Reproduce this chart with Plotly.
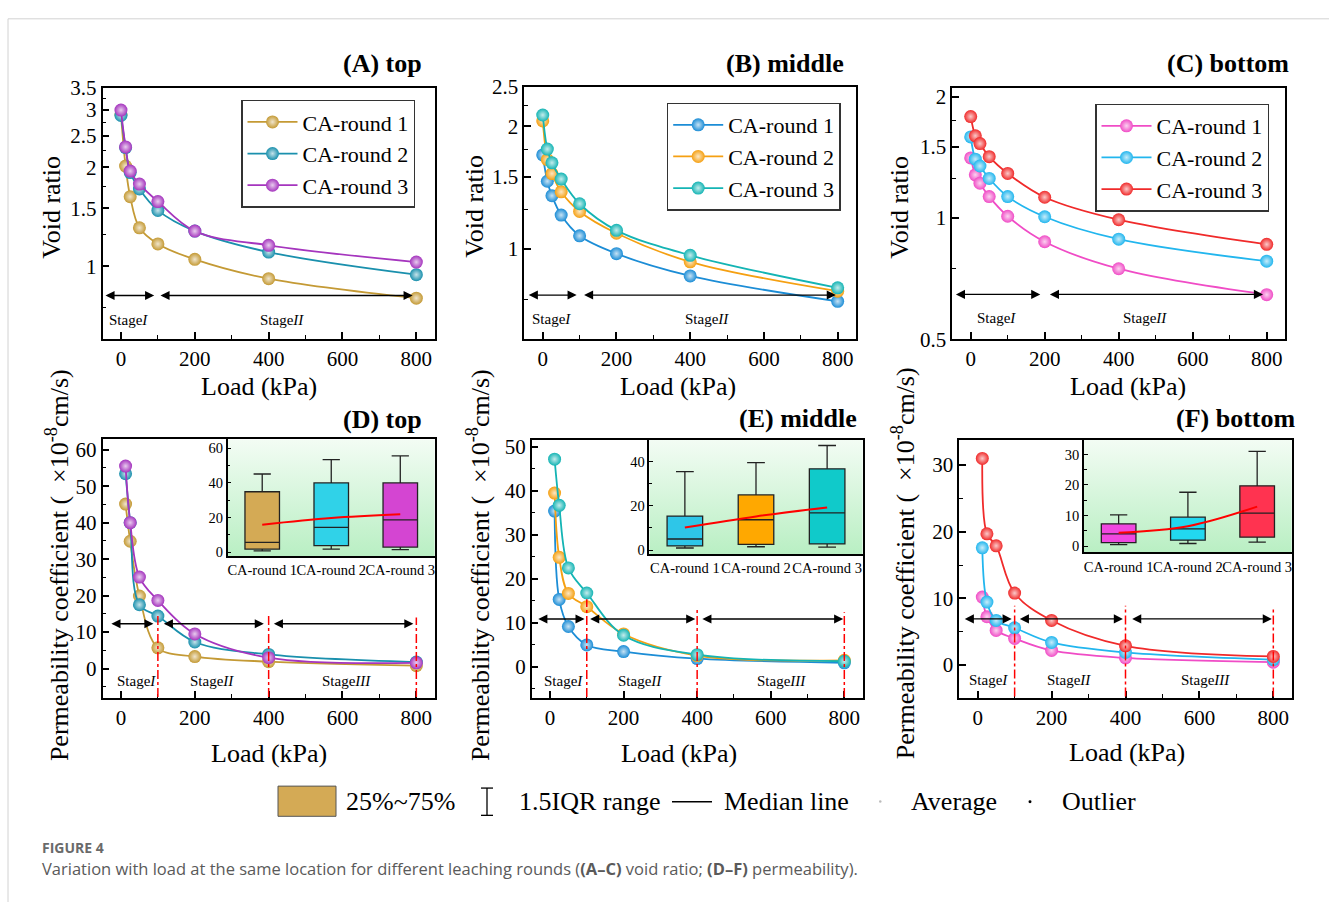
import base64
import numpy as np
import plotly.graph_objects as go

W, H = 1329, 914
FONT = "Liberation Serif"

# ---------------- data ----------------
loads_void = [0, 12.5, 25, 50, 100, 200, 400, 800]
loads_perm = [12.5, 25, 50, 100, 200, 400, 800]
rounds = ["CA-round 1", "CA-round 2", "CA-round 3"]

void_top_r1 = [2.90, 2.02, 1.63, 1.31, 1.17, 1.05, 0.917, 0.80]
void_top_r2 = [2.88, 2.30, 1.93, 1.72, 1.48, 1.28, 1.105, 0.943]
void_top_r3 = [2.99, 2.31, 1.95, 1.78, 1.575, 1.28, 1.159, 1.03]

void_mid_r1 = [1.70, 1.465, 1.35, 1.21, 1.076, 0.973, 0.858, 0.743]
void_mid_r2 = [2.06, 1.656, 1.53, 1.38, 1.235, 1.092, 0.929, 0.787]
void_mid_r3 = [2.13, 1.757, 1.626, 1.483, 1.29, 1.11, 0.964, 0.802]

void_bot_r1 = [1.41, 1.28, 1.22, 1.13, 1.01, 0.873, 0.748, 0.645]
void_bot_r2 = [1.59, 1.40, 1.346, 1.254, 1.13, 1.007, 0.886, 0.781]
void_bot_r3 = [1.786, 1.60, 1.53, 1.42, 1.29, 1.126, 0.99, 0.86]

perm_top_r1 = [45.1, 34.9, 19.9, 5.7, 3.3, 1.9, 0.8]
perm_top_r2 = [53.4, 40.0, 17.5, 14.4, 7.3, 3.9, 1.8]
perm_top_r3 = [55.5, 40.0, 25.1, 18.7, 9.5, 3.0, 1.6]

perm_mid_r1 = [35.4, 15.35, 9.2, 5.0, 3.5, 1.9, 0.95]
perm_mid_r2 = [39.5, 24.9, 16.7, 13.7, 7.5, 2.6, 1.5]
perm_mid_r3 = [47.2, 36.7, 22.5, 16.8, 7.2, 2.8, 1.3]

perm_bot_r1 = [10.2, 7.26, 5.2, 4.0, 2.2, 1.08, 0.45]
perm_bot_r2 = [17.6, 9.45, 6.7, 5.6, 3.4, 1.9, 0.83]
perm_bot_r3 = [31.0, 19.7, 17.9, 10.8, 6.7, 2.9, 1.3]

x_tick_vals = [0, 200, 400, 600, 800]

COL_TOP = ['#C49A35', '#1A90AD', '#A535BE']
COL_MID = ['#1C8DD6', '#F5A012', '#14B4B4']
COL_BOT = ['#F04CC6', '#22B6EE', '#F02A2A']
BOX_TOP = ['#D4AA55', '#30D2E8', '#D445D2']
BOX_MID = ['#2EC6E8', '#FFA800', '#10CACA']
BOX_BOT = ['#F048E0', '#22D8F0', '#FF3350']


def fx(p):
    return p / W


def fy(p):
    return 1 - p / H


def light(hexcol, f=0.7):
    h = hexcol.lstrip('#')
    r, g, b = int(h[0:2], 16), int(h[2:4], 16), int(h[4:6], 16)
    r = int(r + (255 - r) * f)
    g = int(g + (255 - g) * f)
    b = int(b + (255 - b) * f)
    return f'#{r:02x}{g:02x}{b:02x}'


fig = go.Figure()

void_panels = [
    dict(n=1, data=[void_top_r1, void_top_r2, void_top_r3], cols=COL_TOP,
         xd=(102.5, 434.8), yd=(77.7, 336), yr=(0.6, 3.5),
         tv=[1, 1.5, 2, 2.5, 3, 3.5], mv=[0.75, 1.25, 1.75, 2.25, 2.75, 3.25],
         title='(A) top', tpos=(424, 53), legend='legend', lpos=(241, 90),
         ytpos=(52, 201), xtpos=(259, 385),
         arrow_y=0.815, arrows=[(-46, 90), (103, 790)], split=[100, 800],
         vtops=[1.68, 1.085], stages=[(20, 'Stage<i>I</i>'), (435, 'Stage<i>II</i>')], stage_y=0.687),
    dict(n=2, data=[void_mid_r1, void_mid_r2, void_mid_r3], cols=COL_MID,
         xd=(524.3, 856.1), yd=(76.7, 336), yr=(0.6, 2.5),
         tv=[1, 1.5, 2, 2.5], mv=[0.75, 1.25, 1.75, 2.25],
         title='(B) middle', tpos=(846, 53), legend='legend2', lpos=(666.7, 93),
         ytpos=(475, 200), xtpos=(678, 385),
         arrow_y=0.77, arrows=[(-42, 92), (108, 795)], split=[100, 800],
         vtops=[1.305, 0.804], stages=[(24, 'Stage<i>I</i>'), (445, 'Stage<i>II</i>')], stage_y=0.674),
    dict(n=3, data=[void_bot_r1, void_bot_r2, void_bot_r3], cols=COL_BOT,
         xd=(952.2, 1285.2), yd=(78.3, 336), yr=(0.5, 2.1),
         tv=[0.5, 1, 1.5, 2], mv=[0.75, 1.25, 1.75],
         title='(C) bottom', tpos=(1291, 53), legend='legend3', lpos=(1095, 94),
         ytpos=(900, 201), xtpos=(1128, 385),
         arrow_y=0.646, arrows=[(-44, 188), (210, 790)], split=[200, 800],
         vtops=[1.145, 0.891], stages=[(70, 'Stage<i>I</i>'), (471, 'Stage<i>II</i>')], stage_y=0.564),
]

perm_panels = [
    dict(n=4, data=[perm_top_r1, perm_top_r2, perm_top_r3], cols=COL_TOP, box=BOX_TOP,
         xd=(102.5, 434.8), yd=(439, 704.3), yr=(-8, 62.8), dt=10,
         ins=dict(n=7, xd=(227.7, 434.8), yd=(439, 559), yr=(-2.3, 65), dt=20),
         title='(D) top', tpos=(424, 418), ytpos=(57, 568), xtpos=(269, 762),
         arrow_y=12.3, arrows=[(-30, 88), (112, 387), (410, 792)], vtops=[15, 14.4, 14],
         stages=[(42, 'Stage<i>I</i>'), (246, 'Stage<i>II</i>'), (611, 'Stage<i>III</i>')], stage_y=-3.4),
    dict(n=5, data=[perm_mid_r1, perm_mid_r2, perm_mid_r3], cols=COL_MID, box=BOX_MID,
         xd=(531.6, 862.7), yd=(439.3, 704.3), yr=(-7, 51.6), dt=10,
         ins=dict(n=8, xd=(649.3, 862.7), yd=(439.3, 556.7), yr=(-1.8, 49.8), dt=20),
         title='(E) middle', tpos=(859, 417), ytpos=(478, 568), xtpos=(679, 762),
         arrow_y=10.9, arrows=[(-36, 94), (105, 395), (410, 797)], vtops=[15.4, 13, 12.4],
         stages=[(36, 'Stage<i>I</i>'), (245, 'Stage<i>II</i>'), (630, 'Stage<i>III</i>')], stage_y=-3.1),
    dict(n=6, data=[perm_bot_r1, perm_bot_r2, perm_bot_r3], cols=COL_BOT, box=BOX_BOT,
         xd=(959.2, 1291.8), yd=(439.3, 704.3), yr=(-4.9, 33.8), dt=10,
         ins=dict(n=9, xd=(1084, 1291.8), yd=(439.3, 555), yr=(-2.1, 34.8), dt=10),
         title='(F) bottom', tpos=(1297, 417), ytpos=(903, 566), xtpos=(1127, 760),
         arrow_y=6.93, arrows=[(-39, 92), (110, 393), (414, 796)], vtops=[8.9, 8.9, 8.5],
         stages=[(29, 'Stage<i>I</i>'), (247, 'Stage<i>II</i>'), (616, 'Stage<i>III</i>')], stage_y=-2.3),
]

axis_common = dict(showline=True, linecolor='black', linewidth=1.5, mirror=True,
                   ticks='inside', ticklen=7, tickwidth=1.5, tickcolor='black',
                   tickfont=dict(family=FONT, size=21, color='black'),
                   showgrid=False, zeroline=False)

layout = dict(width=W, height=H, autosize=False, margin=dict(l=0, r=0, t=0, b=0),
              paper_bgcolor='white', plot_bgcolor='rgba(0,0,0,0)')
annotations = []
shapes = []
images = []

txt_font = dict(family=FONT, size=26, color='black')
stage_font = dict(family=FONT, size=15, color='black')


def arrow(xr, yr, x0, x1, y):
    return dict(x=x1, y=y, ax=x0, ay=y, xref=xr, yref=yr, axref=xr, ayref=yr,
                text='', showarrow=True, arrowhead=2, startarrowhead=2,
                arrowside='end+start', arrowsize=1.4, startarrowsize=1.4,
                arrowwidth=1.3, arrowcolor='black', standoff=0, startstandoff=0)


def add_common_text(p):
    annotations.append(dict(text=f"<b>{p['title']}</b>", x=fx(p['tpos'][0]), y=fy(p['tpos'][1]),
                            xref='paper', yref='paper', xanchor='right', yanchor='middle',
                            showarrow=False, font=txt_font))
    annotations.append(dict(text='Load (kPa)', x=fx(p['xtpos'][0]), y=fy(p['xtpos'][1]),
                            xref='paper', yref='paper', xanchor='center', yanchor='middle',
                            showarrow=False, font=txt_font))


# ---------------- void ratio panels ----------------
for p in void_panels:
    n = p['n']
    xa, ya = f'x{n}', f'y{n}'
    for i, vals in enumerate(p['data']):
        c = p['cols'][i]
        fig.add_trace(go.Scatter(
            x=loads_void, y=vals, name=rounds[i], mode='lines+markers',
            line=dict(color=c, width=1.8, shape='spline', smoothing=1.0),
            marker=dict(size=13, color=c, line=dict(width=0),
                        gradient=dict(type='radial', color=light(c, 0.75))),
            xaxis=xa, yaxis=ya, legend=p['legend'], showlegend=True))
    layout[f'xaxis{n}'] = dict(axis_common, domain=[fx(p['xd'][0]), fx(p['xd'][1])],
                               range=[-50, 850], tickmode='array', tickvals=x_tick_vals,
                               minor=dict(ticks='inside', ticklen=4, tickwidth=1.2, tickcolor='black',
                                          tickmode='array', tickvals=[100, 300, 500, 700]),
                               anchor=ya)
    layout[f'yaxis{n}'] = dict(axis_common, type='log', domain=[fy(p['yd'][1]), fy(p['yd'][0])],
                               range=[np.log10(p['yr'][0]), np.log10(p['yr'][1])],
                               tickmode='array', tickvals=p['tv'], ticktext=[f'{v:g}' for v in p['tv']],
                               minor=dict(ticks='inside', ticklen=4, tickwidth=1.2, tickcolor='black',
                                          tickmode='array', tickvals=p['mv']),
                               anchor=xa)
    layout[p['legend']] = dict(x=fx(p['lpos'][0]), y=fy(p['lpos'][1]), xanchor='left', yanchor='top',
                               bgcolor='white', bordercolor='#333', borderwidth=1.5,
                               font=dict(family=FONT, size=22, color='black'),
                               itemwidth=50, tracegroupgap=0)
    ly = float(np.log10(p['arrow_y']))
    for a0, a1 in p['arrows']:
        annotations.append(arrow(xa, ya, a0, a1, ly))
    ybot = float(np.log10(p['yr'][0]))
    for xs, top in zip(p['split'], p['vtops']):
        shapes.append(dict(type='line', xref=xa, yref=ya, x0=xs, x1=xs, y0=ybot + 0.01,
                           y1=float(np.log10(top)), line=dict(color='red', width=1.5, dash='dashdot')))
    for xs, t in p['stages']:
        annotations.append(dict(text=t, x=xs, y=float(np.log10(p['stage_y'])), xref=xa, yref=ya,
                                showarrow=False, font=stage_font))
    annotations.append(dict(text='Void ratio', x=fx(p['ytpos'][0]), y=fy(p['ytpos'][1]),
                            xref='paper', yref='paper', textangle=-90, showarrow=False,
                            xanchor='center', yanchor='middle', font=txt_font))
    add_common_text(p)

# ---------------- permeability panels ----------------
svg = ("<svg xmlns='http://www.w3.org/2000/svg' width='100' height='100' preserveAspectRatio='none'>"
       "<defs><linearGradient id='g' x1='0' y1='0' x2='0' y2='1'>"
       "<stop offset='0' stop-color='#F3FCF4'/><stop offset='1' stop-color='#B9EFC3'/>"
       "</linearGradient></defs><rect width='100' height='100' fill='url(#g)'/></svg>")
svg_uri = 'data:image/svg+xml;base64,' + base64.b64encode(svg.encode()).decode()

for p in perm_panels:
    n = p['n']
    xa, ya = f'x{n}', f'y{n}'
    for i, vals in enumerate(p['data']):
        c = p['cols'][i]
        fig.add_trace(go.Scatter(
            x=loads_perm, y=vals, name=rounds[i], mode='lines+markers',
            line=dict(color=c, width=1.8, shape='spline', smoothing=1.0),
            marker=dict(size=13, color=c, line=dict(width=0),
                        gradient=dict(type='radial', color=light(c, 0.75))),
            xaxis=xa, yaxis=ya, showlegend=False))
    layout[f'xaxis{n}'] = dict(axis_common, domain=[fx(p['xd'][0]), fx(p['xd'][1])],
                               range=[-50, 850], tickmode='array', tickvals=x_tick_vals,
                               minor=dict(ticks='inside', ticklen=4, tickwidth=1.2, tickcolor='black',
                                          tickmode='array', tickvals=[100, 300, 500, 700]),
                               anchor=ya)
    layout[f'yaxis{n}'] = dict(axis_common, domain=[fy(p['yd'][1]), fy(p['yd'][0])],
                               range=list(p['yr']), tickmode='linear', tick0=0, dtick=p['dt'],
                               minor=dict(ticks='inside', ticklen=4, tickwidth=1.2, tickcolor='black',
                                          dtick=p['dt'] / 2),
                               anchor=xa)
    for a0, a1 in p['arrows']:
        annotations.append(arrow(xa, ya, a0, a1, p['arrow_y']))
    for xs, top in zip([100, 400, 800], p['vtops']):
        shapes.append(dict(type='line', xref=xa, yref=ya, x0=xs, x1=xs, y0=p['yr'][0] + 0.2,
                           y1=top, line=dict(color='red', width=1.5, dash='dashdot')))
    for xs, t in p['stages']:
        annotations.append(dict(text=t, x=xs, y=p['stage_y'], xref=xa, yref=ya,
                                showarrow=False, font=stage_font))
    annotations.append(dict(text='Permeability coefficient (\u2002×10<sup>-8</sup>cm/s)',
                            x=fx(p['ytpos'][0]), y=fy(p['ytpos'][1]),
                            xref='paper', yref='paper', textangle=-90, showarrow=False,
                            xanchor='center', yanchor='middle', font=txt_font))
    add_common_text(p)

    # inset box chart
    ins = p['ins']
    m = ins['n']
    xi, yi = f'x{m}', f'y{m}'
    for i, vals in enumerate(p['data']):
        fig.add_trace(go.Box(
            x=[rounds[i]] * len(vals), y=vals, name=rounds[i], boxpoints=False,
            quartilemethod='exclusive', fillcolor=p['box'][i],
            line=dict(color='#222', width=1.3), whiskerwidth=0.5, width=0.5,
            xaxis=xi, yaxis=yi, showlegend=False, hoverinfo='skip'))
    means = [float(np.mean(v)) for v in p['data']]
    fig.add_trace(go.Scatter(x=rounds, y=means, mode='lines',
                             line=dict(color='red', width=2, shape='spline'),
                             xaxis=xi, yaxis=yi, showlegend=False))
    layout[f'xaxis{m}'] = dict(axis_common, domain=[fx(ins['xd'][0]), fx(ins['xd'][1])],
                               type='category', categoryorder='array', categoryarray=rounds,
                               range=[-0.5, 2.5], ticks='', anchor=yi, tickangle=0,
                               tickfont=dict(family=FONT, size=14.5, color='black'))
    layout[f'yaxis{m}'] = dict(axis_common, domain=[fy(ins['yd'][1]), fy(ins['yd'][0])],
                               range=list(ins['yr']), tickmode='linear', tick0=0, dtick=ins['dt'],
                               ticklen=4, tickwidth=1.2,
                               minor=dict(ticks='inside', ticklen=3, tickwidth=1, tickcolor='black',
                                          dtick=ins['dt'] / 2),
                               tickfont=dict(family=FONT, size=14.5, color='black'), anchor=xi)
    images.append(dict(source=svg_uri, xref='paper', yref='paper',
                       x=fx(ins['xd'][0]), y=fy(ins['yd'][0]),
                       sizex=fx(ins['xd'][1]) - fx(ins['xd'][0]),
                       sizey=fy(ins['yd'][0]) - fy(ins['yd'][1]),
                       sizing='stretch', xanchor='left', yanchor='top', layer='below'))

# ---------------- bottom key ----------------
key_font = dict(family=FONT, size=26, color='black')
shapes.append(dict(type='rect', xref='paper', yref='paper', x0=fx(278), x1=fx(336), y0=fy(826), y1=fy(795),
                   fillcolor='#D4AA55', line=dict(color='#555', width=1)))
shapes.append(dict(type='line', xref='paper', yref='paper', x0=fx(487), x1=fx(487), y0=fy(825), y1=fy(797),
                   line=dict(color='black', width=1.3)))
for yy in (797, 825):
    shapes.append(dict(type='line', xref='paper', yref='paper', x0=fx(481), x1=fx(493), y0=fy(yy), y1=fy(yy),
                       line=dict(color='black', width=1.3)))
shapes.append(dict(type='line', xref='paper', yref='paper', x0=fx(672), x1=fx(712), y0=fy(811), y1=fy(811),
                   line=dict(color='black', width=1.5)))
shapes.append(dict(type='circle', xref='paper', yref='paper', x0=fx(879), x1=fx(881.5), y0=fy(812), y1=fy(809.5),
                   fillcolor='#bbbbbb', line=dict(width=0)))
shapes.append(dict(type='circle', xref='paper', yref='paper', x0=fx(1028.5), x1=fx(1031.5), y0=fy(812.5), y1=fy(809.5),
                   fillcolor='black', line=dict(width=0)))
for xx, t in [(344, '25%~75%'), (517, '1.5IQR range'), (722, 'Median line'), (909, 'Average'), (1060, 'Outlier')]:
    annotations.append(dict(text=t, x=fx(xx), y=fy(811), xref='paper', yref='paper', xanchor='left',
                            yanchor='middle', showarrow=False, font=key_font))

# ---------------- frame & caption ----------------
shapes.append(dict(type='line', xref='paper', yref='paper', x0=fx(8), x1=1, y0=fy(7), y1=fy(7),
                   line=dict(color='#d2d2d2', width=1)))
shapes.append(dict(type='line', xref='paper', yref='paper', x0=fx(8), x1=fx(8), y0=0, y1=fy(7),
                   line=dict(color='#d2d2d2', width=1)))
annotations.append(dict(text='<b>FIGURE 4</b>', x=fx(40), y=fy(858), xref='paper', yref='paper',
                        xanchor='left', yanchor='middle', showarrow=False,
                        font=dict(family='Open Sans', size=14, color='#6a6a6a')))
annotations.append(dict(text='Variation with load at the same location for different leaching rounds '
                             '(<b>(A–C)</b> void ratio; <b>(D–F)</b> permeability).',
                        x=fx(40), y=fy(880), xref='paper', yref='paper',
                        xanchor='left', yanchor='middle', showarrow=False,
                        font=dict(family='Open Sans', size=16.5, color='#5a5a5a')))

layout['annotations'] = annotations
layout['shapes'] = shapes
layout['images'] = images
fig.update_layout(**layout)

pin_page = ("document.documentElement.style.margin='0';document.body.style.margin='0';"
            "document.documentElement.style.overflow='hidden';document.body.style.overflow='hidden';")
fig.write_html('out.html', config={'displayModeBar': False}, post_script=pin_page)
